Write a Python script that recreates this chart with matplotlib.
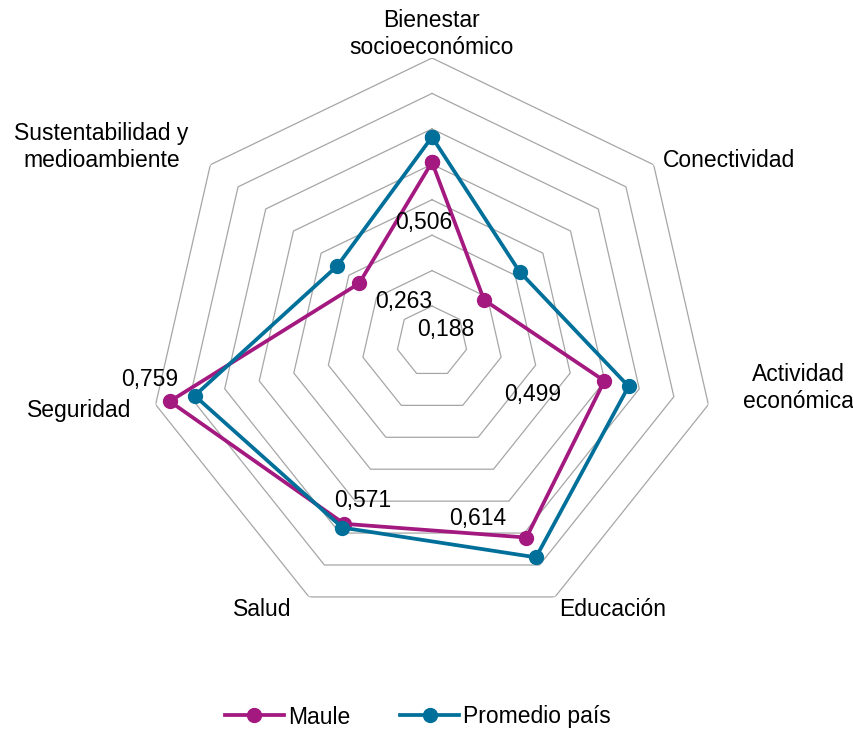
import numpy as np
import matplotlib
matplotlib.use("Agg")
import matplotlib.pyplot as plt

plt.rcParams['font.family'] = ['Liberation Sans', 'DejaVu Sans']

categories = ["Bienestar\nsocioeconómico", "Conectividad", "Actividad\neconómica",
              "Educación", "Salud", "Seguridad", "Sustentabilidad y\nmedioambiente"]
maule = [0.506, 0.188, 0.499, 0.614, 0.571, 0.759, 0.263]
promedio_pais = [0.577, 0.316, 0.569, 0.676, 0.583, 0.687, 0.342]
grid_levels = [0.1, 0.2, 0.3, 0.4, 0.5, 0.6, 0.7, 0.8]
value_labels = ["0,506", "0,188", "0,499", "0,614", "0,571", "0,759", "0,263"]

MAGENTA = "#A3197F"
TEAL = "#00709A"
GRID = "#A6A6A6"

W, H = 854, 729
fig = plt.figure(figsize=(W / 100, H / 100), dpi=100)
cx, cy, R = 432, 341.5, 283.5
ax = fig.add_axes([(cx - R) / W, (H - cy - R) / H, 2 * R / W, 2 * R / H], projection="polar")
ax.set_theta_offset(np.pi / 2)
ax.set_theta_direction(-1)
ax.set_ylim(0, grid_levels[-1])
ax.grid(False)
ax.set_xticks([])
ax.set_yticks([])
ax.spines["polar"].set_visible(False)
ax.patch.set_alpha(0)

n = len(categories)
theta = np.arange(n) * 2 * np.pi / n
theta_closed = np.append(theta, theta[0])

# heptagonal rings
for lvl in grid_levels:
    ax.plot(theta_closed, [lvl] * (n + 1), color=GRID, lw=0.9, zorder=1)

def close(vals):
    return np.append(vals, vals[0])

ax.plot(theta_closed, close(maule), color=MAGENTA, lw=2.7, marker="o", ms=10,
        label="Maule", zorder=3, clip_on=False)
ax.plot(theta_closed, close(promedio_pais), color=TEAL, lw=2.7, marker="o", ms=10,
        label="Promedio país", zorder=4, clip_on=False)

FS = 16.5

# value labels for Maule (offsets in pixels: right, up)
px = 0.72
label_offsets = [(-8, -60), (-38, -30), (-72, -14), (-49, 19), (18, 23), (-20, 22), (45, -18)]
for t, v, txt, (dx, dy) in zip(theta, maule, value_labels, label_offsets):
    ax.annotate(txt, xy=(t, v), xytext=(dx * px, dy * px), textcoords="offset points",
                ha="center", va="center", fontsize=FS, color="black", zorder=5)

# category labels placed around the outer ring
cat_offsets = [(0, 24, "center"), (9, 4, "left"), (90, 17, "center"), (58, -13, "center"),
               (-47, -13, "center"), (-76, -6, "center"), (-109, 18, "center")]
for t, name, (dx, dy, ha) in zip(theta, categories, cat_offsets):
    ax.annotate(name, xy=(t, grid_levels[-1]), xytext=(dx * px, dy * px),
                textcoords="offset points", ha=ha, va="center", fontsize=FS,
                color="black", linespacing=1.22)

fig.legend(loc="center", bbox_to_anchor=(418 / W, 12 / H), ncol=2, frameon=False,
           fontsize=FS, handlelength=2.55, handletextpad=0.18, columnspacing=2.2)

fig.savefig("out.png", dpi=100, facecolor="white")
